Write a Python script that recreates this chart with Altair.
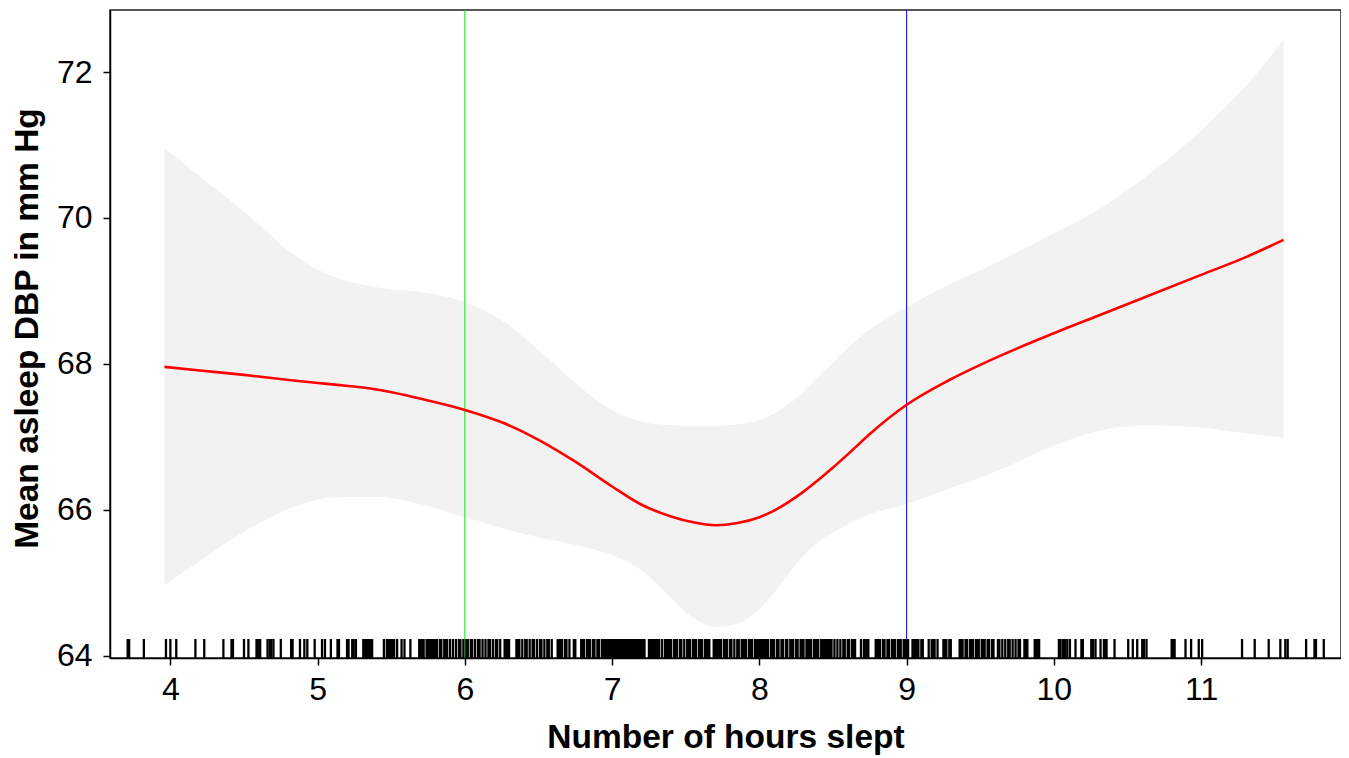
import altair as alt
import pandas as pd

# ---- data ----
curve_hours = [3.96, 4.2, 4.5, 4.85, 5.1, 5.4, 5.75, 6.0, 6.25, 6.5, 6.75, 7.0, 7.2, 7.4,
               7.55, 7.7, 7.85, 8.0, 8.1, 8.2, 8.3, 8.4, 8.5, 8.6, 8.75, 9.0, 9.3, 9.6,
               10.0, 10.3, 10.6, 11.0, 11.3, 11.56]
curve_mean = [67.96, 67.91, 67.85, 67.77, 67.72, 67.65, 67.5, 67.37, 67.2, 66.96, 66.66,
              66.32, 66.07, 65.91, 65.83, 65.79, 65.82, 65.9, 65.99, 66.11, 66.25, 66.41,
              66.58, 66.76, 67.04, 67.44, 67.79, 68.08, 68.42, 68.66, 68.9, 69.22, 69.46, 69.70]
curve_upper = [70.96, 70.57, 70.09, 69.48, 69.2, 69.05, 68.97, 68.85, 68.6, 68.19, 67.74,
               67.37, 67.21, 67.16, 67.15, 67.15, 67.17, 67.23, 67.32, 67.45, 67.62, 67.82,
               68.02, 68.22, 68.47, 68.78, 69.1, 69.38, 69.79, 70.11, 70.53, 71.2, 71.8, 72.44]
curve_lower = [64.97, 65.3, 65.7, 66.05, 66.17, 66.18, 66.05, 65.9, 65.75, 65.62, 65.52,
               65.38, 65.17, 64.8, 64.52, 64.4, 64.44, 64.64, 64.86, 65.13, 65.37, 65.56,
               65.69, 65.8, 65.94, 66.08, 66.3, 66.52, 66.88, 67.08, 67.16, 67.13, 67.05, 66.99]

# rug (observed hours slept), sparse part in hours
rug_sparse = [3.71, 3.72, 3.82, 3.97, 4.00, 4.04, 4.17, 4.23, 4.36, 4.415, 4.425, 4.50, 4.53,
              4.585, 4.595, 4.61, 4.66, 4.675, 4.685, 4.70, 4.75, 4.82, 4.83, 4.88, 4.91,
              4.93, 4.98, 5.03, 5.05, 5.09, 5.135, 5.145, 5.20, 5.21, 5.235, 5.245, 5.26,
              5.31, 5.32, 5.33, 5.34, 5.35, 5.36, 5.37, 5.45, 5.47, 5.48, 5.49, 5.50, 5.51,
              5.52, 5.54, 5.57, 5.59, 5.63,
              10.034, 10.045, 10.061, 10.075, 10.091, 10.109, 10.147, 10.187, 10.197,
              10.254, 10.267, 10.283, 10.317, 10.34, 10.35, 10.358, 10.412, 10.505, 10.536,
              10.566, 10.60, 10.611, 10.629, 10.80, 10.81, 10.82, 10.894, 10.932, 10.984,
              11.007, 11.278, 11.364, 11.459, 11.538, 11.572, 11.588, 11.713, 11.77, 11.78,
              11.833]
# dense part, in hundredths of an hour
rug_dense_hundredths = [
    569, 570, 571, 572, 574, 575, 576, 577, 578, 579, 580, 581, 583, 584, 586, 587, 588,
    590, 592, 594, 596, 597, 599, 601, 602, 604, 605, 607, 609, 610, 612, 614, 616, 617,
    619, 621, 622, 624, 627, 628, 629, 630, 635, 636, 637, 639, 641, 642, 644, 646, 647,
    649, 651, 652, 654, 656, 657, 659, 663, 664, 665, 666, 668, 669, 671, 674, 675, 679,
    680, 681, 683, 684, 685, 687, 688, 690, 691, 693, 694,
    695, 696, 697, 698, 699, 700, 701, 702, 703, 704, 705, 706, 707, 708, 709, 710, 711,
    712, 713, 714, 715, 716, 717, 718, 719, 720, 721, 722, 725, 726, 727, 728, 729, 730,
    731, 732, 734, 736, 737, 738, 739, 740, 742, 743, 744, 746, 747, 749, 751, 752, 753,
    755, 756, 757, 759, 760, 761, 763, 764, 765, 766, 769, 770, 771, 772, 773, 774, 776,
    777, 778, 780, 781, 783, 785, 786, 788, 789, 790, 791, 793, 794, 795, 797, 798, 799,
    800, 801, 802, 803, 804, 805, 806, 808, 809, 810, 812, 813, 815, 816, 818, 819, 821,
    822, 823, 825, 826, 828, 829, 830, 832, 833, 834, 835, 837, 838, 839, 840, 842, 843,
    844, 845, 846, 847, 848, 849, 851, 853, 855, 857, 858, 860, 861, 863, 864, 865, 869,
    871, 872, 873, 874, 879, 880, 881, 882, 884, 885, 887, 888, 890, 891, 892, 894, 895,
    896, 898, 899, 900, 901, 904, 905, 906, 907, 908, 910, 911, 915, 917, 918, 919, 921,
    925, 926, 927, 929, 930, 936, 937, 938, 940, 941, 943, 944, 945, 947, 948, 949, 951,
    952, 953, 955, 956, 958, 959, 962, 963, 965, 967, 969, 970, 972, 974, 976, 977, 980,
    981, 982, 987, 988, 989, 990]

vline_hours = [6, 9]
vline_colors = ["#00ee00", "#0000ff"]

x_ticks = [4, 5, 6, 7, 8, 9, 10, 11]
y_ticks = [64, 66, 68, 70, 72]

# ---- tables ----
curve = pd.DataFrame({"hours": curve_hours, "mean": curve_mean,
                      "upper": curve_upper, "lower": curve_lower})
rug = pd.DataFrame({"hours": rug_sparse + [v / 100 for v in rug_dense_hundredths]})
vlines = pd.DataFrame({"hours": vline_hours, "color": vline_colors})

FONT = "Liberation Sans"
xscale = alt.Scale(domain=[3.59, 11.95], nice=False, zero=False)
yscale = alt.Scale(domain=[63.97, 72.85], nice=False, zero=False)

xaxis = alt.Axis(values=x_ticks, format="d", title="Number of hours slept",
                 grid=False, labelFontSize=32, labelFont=FONT, labelColor="black",
                 labelPadding=9, tickSize=7, tickWidth=1.5, tickColor="black",
                 domainColor="black", domainWidth=1.5,
                 titleFont=FONT, titleFontSize=33.5, titleFontWeight="bold",
                 titleColor="black", titleBaseline="alphabetic", titleY=89)
yaxis = alt.Axis(values=y_ticks, format="d", title="Mean asleep DBP in mm Hg",
                 grid=False, labelFontSize=32, labelFont=FONT, labelColor="black",
                 labelPadding=11, tickSize=7, tickWidth=1.5, tickColor="black",
                 domainColor="black", domainWidth=1.5,
                 titleFont=FONT, titleFontSize=33.5, titleFontWeight="bold",
                 titleColor="black", titleBaseline="alphabetic", titleAngle=-90,
                 titleX=-73, titleY=318, titleAlign="center")

band = alt.Chart(curve).mark_area(color="#f2f2f2", interpolate="monotone").encode(
    x=alt.X("hours:Q", scale=xscale, axis=xaxis),
    y=alt.Y("lower:Q", scale=yscale, axis=yaxis),
    y2="upper:Q",
)

vl = alt.Chart(vlines).mark_rule(strokeWidth=1).encode(
    x=alt.X("hours:Q", scale=xscale),
    color=alt.Color("color:N", scale=None),
)

line = alt.Chart(curve).mark_line(color="#ff0000", strokeWidth=2.6,
                                  interpolate="monotone").encode(
    x=alt.X("hours:Q", scale=xscale),
    y=alt.Y("mean:Q", scale=yscale),
)

rugs = alt.Chart(rug).mark_rule(color="black", strokeWidth=2.3).encode(
    x=alt.X("hours:Q", scale=xscale),
    y=alt.value(648),
    y2=alt.value(629),
)

chart = alt.layer(band, vl, line, rugs).properties(
    width=1231, height=648,
    autosize=alt.AutoSizeParams(type="none"),
    padding={"left": 102, "top": 2, "right": 0, "bottom": 99},
    background="white",
).configure_view(stroke="#222222", strokeWidth=1.5)

chart.save("out.html", embed_options={"renderer": "svg", "actions": False})
